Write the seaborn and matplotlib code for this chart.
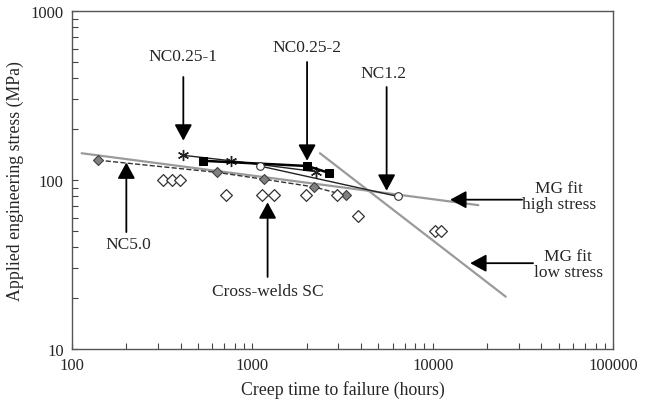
import matplotlib
matplotlib.use("Agg")
import matplotlib.pyplot as plt
import matplotlib.ticker as mticker
import seaborn as sns
import pandas as pd

# data (hours, MPa)
nc025_1_time = [414, 760, 2250]
nc025_1_stress = [140, 130, 112]
nc025_2_time = [530, 2020, 2670]
nc025_2_stress = [130, 121, 110]
nc12_time = [1100, 6400]
nc12_stress = [121, 80]
nc50_time = [140, 635, 1160, 2200, 3300]
nc50_stress = [131, 111, 101, 91, 81]
cw_time = [320, 357, 397, 715, 1127, 1324, 1978, 2937, 3874, 10350, 11090]
cw_stress = [100, 100, 100, 81, 81, 81, 81, 81, 61, 50, 50]
mg_high_time = [113, 17900]
mg_high_stress = [144, 71]
mg_low_time = [2370, 25400]
mg_low_stress = [144, 20.4]

sns.set_theme(style="white")
plt.rcParams['font.family'] = ['Liberation Serif', 'DejaVu Serif']
plt.rcParams['font.size'] = 12.5

fig = plt.figure(figsize=(6.55, 4.10), dpi=100)
ax = fig.add_axes([0.110, 0.1463, 0.826, 0.8244])

# fitted lines for the parent metal
sns.lineplot(x=mg_high_time, y=mg_high_stress, ax=ax, color='#9a9a9a', lw=1.6)
sns.lineplot(x=mg_low_time, y=mg_low_stress, ax=ax, color='#9a9a9a', lw=1.6)

# NC5.0 grey diamonds with dashed trend
sns.lineplot(x=nc50_time, y=nc50_stress, ax=ax, color='#333333', lw=1.0,
             linestyle='--', marker='D', markersize=5.5,
             markerfacecolor='#808080', markeredgecolor='#404040', markeredgewidth=0.8)

# NC0.25 series
sns.lineplot(x=nc025_1_time, y=nc025_1_stress, ax=ax, color='#222222', lw=1.0,
             marker=(6, 2, 0), markersize=8, markeredgecolor='#222222', markeredgewidth=1.0)
sns.lineplot(x=nc025_2_time, y=nc025_2_stress, ax=ax, color='black', lw=1.8,
             marker='s', markersize=6, markerfacecolor='black', markeredgecolor='black')

# NC1.2 open circles
sns.lineplot(x=nc12_time, y=nc12_stress, ax=ax, color='#222222', lw=1.0,
             marker='o', markersize=5.5, markerfacecolor='white',
             markeredgecolor='#333333', markeredgewidth=0.8)

# cross-weld SC open diamonds
sns.scatterplot(x=cw_time, y=cw_stress, ax=ax, marker='D', s=36,
                facecolor='white', edgecolor='#333333', linewidth=0.9, zorder=3)

ax.set_xscale('log')
ax.set_yscale('log')
ax.set_xlim(100, 100000)
ax.set_ylim(10, 1000)

fmt = mticker.FuncFormatter(lambda v, p: f"{int(round(v))}")
ax.xaxis.set_major_formatter(fmt)
ax.yaxis.set_major_formatter(fmt)
ax.xaxis.set_minor_formatter(mticker.NullFormatter())
ax.yaxis.set_minor_formatter(mticker.NullFormatter())
ax.xaxis.set_minor_locator(mticker.LogLocator(base=10, subs=range(2, 10)))
ax.yaxis.set_minor_locator(mticker.LogLocator(base=10, subs=range(2, 10)))
ax.tick_params(which='both', direction='in', length=4, width=0.8, color='#444444',
               bottom=True, left=True, top=False, right=False)
ax.tick_params(which='major', labelsize=12, pad=6)
for sp in ax.spines.values():
    sp.set_color('#555555')
    sp.set_linewidth(1.0)

ax.set_xlabel('Creep time to failure (hours)', fontsize=12.8, labelpad=5)
ax.set_ylabel('Applied engineering stress (MPa)', fontsize=12.8, labelpad=5)

arrow = dict(arrowstyle='-|>,head_length=0.7,head_width=0.38', color='black',
             lw=1.3, shrinkA=0, shrinkB=0, mutation_scale=14)

ax.annotate('', xy=(414, 171), xytext=(414, 407), arrowprops=arrow)
ax.text(414, 542, 'NC0.25-1', ha='center', va='center')
ax.annotate('', xy=(2010, 130), xytext=(2010, 499), arrowprops=arrow)
ax.text(2010, 612, 'NC0.25-2', ha='center', va='center')
ax.annotate('', xy=(5550, 86.4), xytext=(5550, 355), arrowprops=arrow)
ax.text(5300, 430, 'NC1.2', ha='center', va='center')
ax.annotate('', xy=(200, 127), xytext=(200, 49.2), arrowprops=arrow)
ax.text(205, 41.8, 'NC5.0', ha='center', va='center')
ax.annotate('', xy=(1214, 73.8), xytext=(1214, 26.7), arrowprops=arrow)
ax.text(1220, 22.0, 'Cross-welds SC', ha='center', va='center')
ax.annotate('', xy=(12490, 76.5), xytext=(31300, 76.5), arrowprops=arrow)
ax.text(50200, 80.4, 'MG fit\nhigh stress', ha='center', va='center', linespacing=1.0)
ax.annotate('', xy=(16130, 32.2), xytext=(36000, 32.2), arrowprops=arrow)
ax.text(56400, 31.8, 'MG fit\nlow stress', ha='center', va='center', linespacing=1.0)

fig.savefig('out.png', dpi=100)
